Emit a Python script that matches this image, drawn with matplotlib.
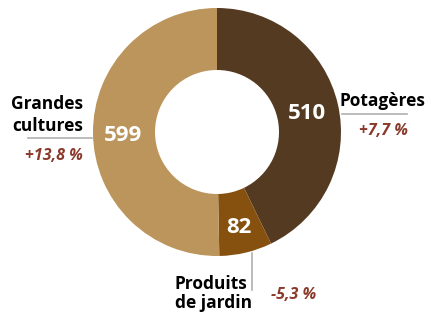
import matplotlib
matplotlib.use("Agg")
import matplotlib.pyplot as plt
import numpy as np

categories = ["Potagères", "Produits\nde jardin", "Grandes\ncultures"]
values = [510, 82, 599]
changes = ["+7,7 %", "-5,3 %", "+13,8 %"]
colors = ["#553a22", "#86500f", "#bb955b"]

W, H = 427, 314
fig = plt.figure(figsize=(W / 100, H / 100), dpi=100)
fig.patch.set_facecolor("white")

def fx(x):
    return x / W

def fy(y):
    return 1 - y / H

cx, cy, R = 217, 132, 124
ax = fig.add_axes([fx(cx - R), fy(cy + R), 2 * R / W, 2 * R / H])
wedges, _ = ax.pie(values, colors=colors, startangle=90, counterclock=False,
                   radius=1, wedgeprops=dict(width=0.5, linewidth=0))
ax.set_xlim(-1, 1)
ax.set_ylim(-1, 1)
ax.set_aspect("equal")
ax.axis("off")

font = "Open Sans"
# value labels inside ring
angle_override = {2: 180.5}
radius_for = {0: 0.745, 1: 0.77, 2: 0.758}
for i, w in enumerate(wedges):
    ang = (w.theta1 + w.theta2) / 2
    ang = angle_override.get(i, ang)
    r = radius_for[i]
    x = r * np.cos(np.radians(ang))
    y = r * np.sin(np.radians(ang))
    ax.text(x, y, str(values[i]), ha="center", va="center_baseline", color="white",
            fontsize=16, fontweight="bold", family=font)

line_col = "#b0b0b0"
red = "#8a3a2b"
lab_fs = 12.5
pct_fs = 11.5

def label(x, y, s, ha):
    fig.text(fx(x), fy(y), s, ha=ha, va="baseline", fontsize=lab_fs,
             fontweight="bold", family=font, color="black")

def pct(x, y, s, ha):
    fig.text(fx(x), fy(y), s, ha=ha, va="baseline", fontsize=pct_fs,
             fontweight="bold", style="italic", family=font, color=red)

# Potagères
label(340, 106.5, categories[0], "left")
fig.add_artist(plt.Line2D([fx(342), fx(407)], [fy(113.5), fy(113.5)],
                          color=line_col, lw=1.2))
pct(384, 135, changes[0], "center")

# Grandes cultures
g1, g2 = categories[2].split("\n")
label(83, 109, g1, "right")
label(83, 131, g2, "right")
fig.add_artist(plt.Line2D([fx(28), fx(92)], [fy(137.5), fy(137.5)],
                          color=line_col, lw=1.2))
pct(54, 160, changes[2], "center")

# Produits de jardin
p1, p2 = categories[1].split("\n")
fig.add_artist(plt.Line2D([fx(252.5), fx(252.5)], [fy(253), fy(290)],
                          color=line_col, lw=1.2))
label(175, 289, p1, "left")
label(175, 308, p2, "left")
pct(293.5, 299, changes[1], "center")

fig.savefig("out.png", dpi=100, facecolor="white")
